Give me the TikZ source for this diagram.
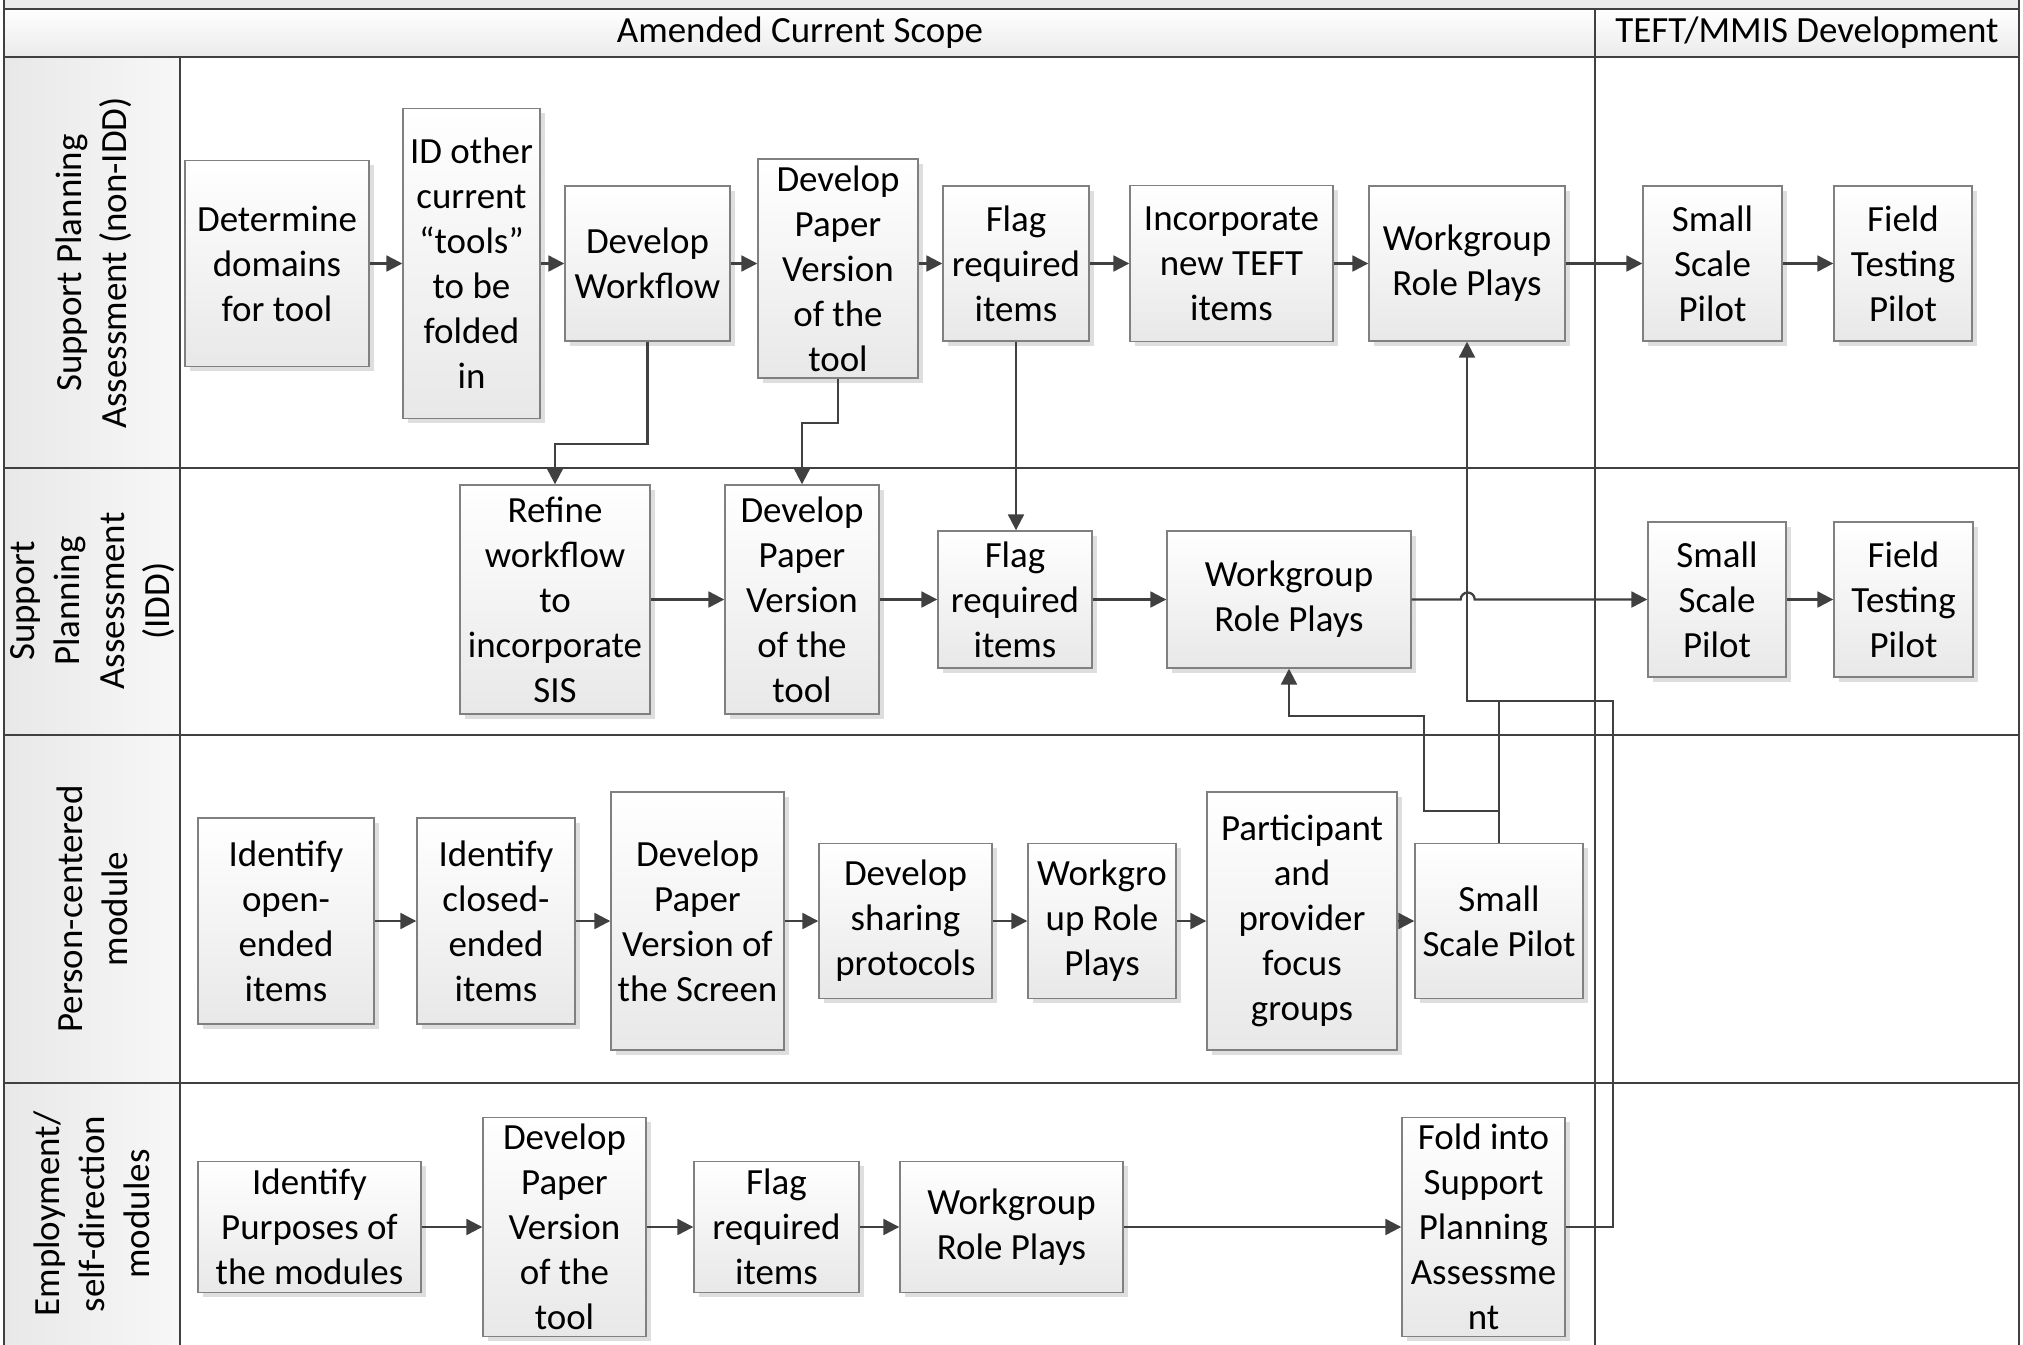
\documentclass[tikz,border=0pt]{standalone}
\usepackage{fontspec}
\setmainfont{Carlito}
\usetikzlibrary{arrows.meta,shadows}
\tikzset{
  box/.style={draw=black!50, line width=0.4pt, top color=white, bottom color=black!9,
    drop shadow={shadow xshift=0.045cm, shadow yshift=-0.045cm, fill=black!13, opacity=1},
    align=center, inner sep=0pt, font=\fontsize{10.5}{12.8}\selectfont},
  sz/.style 2 args={minimum width=#1*0.01cm, minimum height=#2*0.01cm},
  lbl/.style={font=\fontsize{10.5}{12.8}\selectfont},
  lane/.style={rotate=90, align=center, font=\fontsize{10.5}{12.8}\selectfont},
  flow/.style={draw=black!75, line width=0.65pt, -{Triangle[length=4.5pt,width=4.5pt]}},
  laneline/.style={draw=black!75, line width=0.6pt},
}
\begin{document}
\begin{tikzpicture}[x=0.01cm, y=-0.01cm]
      \useasboundingbox (0,0) rectangle (2023,1345);
      \fill[black!8] (4,0) rectangle (2019,9);
      \shade[top color=white, bottom color=black!8] (4,9) rectangle (2019,57);
      \shade[left color=black!9, right color=black!3] (4,57) rectangle (180,1345);
      \draw[laneline] (4,0) -- (4,1345) (2019,0) -- (2019,1345);
      \draw[laneline] (4,9) -- (2019,9) (4,57) -- (2019,57);
      \foreach \y in {468,735,1083} \draw[laneline] (4,\y) -- (2019,\y);
      \draw[laneline] (180,57) -- (180,1345);
      \draw[laneline, line width=0.5pt] (1595,9) -- (1595,1345);

      \node[lbl] (h1) at (800,33) {Amended Current Scope};
      \node[lbl] (h2) at (1807,33) {TEFT/MMIS Development};

      \node[lane] (l1) at (94,263) {Support Planning\\Assessment (non-IDD)};
      \node[lane] (l2) at (93,601) {Support\\Planning\\Assessment\\(IDD)};
      \node[lane] (l3) at (92,909) {Person-centered\\module};
      \node[lane] (l4) at (92,1214) {Employment/\\self-direction\\modules};

      \node[box, sz={184}{206}] (a1) at (277,263.5) {Determine\\domains\\for tool};
      \node[box, sz={137}{310}] (a2) at (471.5,263.5) {ID other\\current\\“tools”\\to be\\folded\\in};
      \node[box, sz={165}{155}] (a3) at (647.5,263.5) {Develop\\Workflow};
      \node[box, sz={160}{219}] (a4) at (838,268.5) {Develop\\Paper\\Version\\of the\\tool};
      \node[box, sz={146}{155}] (a5) at (1016,263.5) {Flag\\required\\items};
      \node[box, sz={203}{156}] (a6) at (1231.5,263.5) {Incorporate\\new TEFT\\items};
      \node[box, sz={196}{155}] (a7) at (1467,263.5) {Workgroup\\Role Plays};
      \node[box, sz={139}{155}] (a8) at (1712.5,263.5) {Small\\Scale\\Pilot};
      \node[box, sz={138}{155}] (a9) at (1903,263.5) {Field\\Testing\\Pilot};

      \node[box, sz={190}{229}] (b1) at (555,599.5) {Refine\\workflow\\to\\incorporate\\SIS};
      \node[box, sz={154}{229}] (b2) at (802,599.5) {Develop\\Paper\\Version\\of the\\tool};
      \node[box, sz={154}{137}] (b3) at (1015,599.5) {Flag\\required\\items};
      \node[box, sz={244}{137}] (b4) at (1289,599.5) {Workgroup\\Role Plays};
      \node[box, sz={138}{155}] (b5) at (1717,599.5) {Small\\Scale\\Pilot};
      \node[box, sz={139}{155}] (b6) at (1903.5,599.5) {Field\\Testing\\Pilot};

      \node[box, sz={176}{206}] (c1) at (286,921) {Identify\\open-\\ended\\items};
      \node[box, sz={158}{206}] (c2) at (496,921) {Identify\\closed-\\ended\\items};
      \node[box, sz={173}{258}] (c3) at (697.5,921) {Develop\\Paper\\Version of\\the Screen};
      \node[box, sz={173}{155}] (c4) at (905.5,921) {Develop\\sharing\\protocols};
      \node[box, sz={148}{155}] (c5) at (1102,921) {Workgro\\up Role\\Plays};
      \node[box, sz={190}{258}] (c6) at (1302,921) {Participant\\and\\provider\\focus\\groups};
      \node[box, sz={168}{155}] (c7) at (1499,921) {Small\\Scale Pilot};

      \node[box, sz={223}{131}] (d1) at (309.5,1227) {Identify\\Purposes of\\the modules};
      \node[box, sz={163}{219}] (d2) at (564.5,1227) {Develop\\Paper\\Version\\of the\\tool};
      \node[box, sz={165}{131}] (d3) at (776.5,1227) {Flag\\required\\items};
      \node[box, sz={223}{131}] (d4) at (1011.5,1227) {Workgroup\\Role Plays};
      \node[box, sz={163}{219}] (d5) at (1483.5,1227) {Fold into\\Support\\Planning\\Assessme\\nt};

      \coordinate (k1) at (1613,701);
      \begin{scope}[flow]
        \draw (a1) -- (a2);
        \draw (a2) -- (a3);
        \draw (a3) -- (a3 -| a4.west);
        \draw (a5 -| a4.east) -- (a5);
        \draw (a5) -- (a6);
        \draw (a6) -- (a7);
        \draw (a7) -- (a8);
        \draw (a8) -- (a9);
        \draw (a3.south) -- ++(0,102) -| (b1.north);
        \draw (a4.south) -- ++(0,44) -| (b2.north);
        \draw (a5.south) -- (a5.south |- b3.north);
        \draw (b1) -- (b2);
        \draw (b2) -- (b3);
        \draw (b3) -- (b4);
        \draw (b4.east) -- ++(49,0) arc[start angle=180, end angle=360, radius=7] -- (b5.west);
        \draw (b5) -- (b6);
        \draw (c1) -- (c2);
        \draw (c2) -- (c3);
        \draw (c3) -- (c4);
        \draw (c4) -- (c5);
        \draw (c5) -- (c6);
        \draw (c6) -- (c7);
        \draw (d1) -- (d2);
        \draw (d2) -- (d3);
        \draw (d3) -- (d4);
        \draw (d4) -- (d5);
        \draw (d5.east) -| (k1) -| (a7.south);
        \draw (c7.north) -- ++(0,-32) -| ++(-75,-95) -| (b4.south);
        \draw[-] (c7.north) -- (c7.north |- k1);
      \end{scope}
    \end{tikzpicture}
\end{document}
